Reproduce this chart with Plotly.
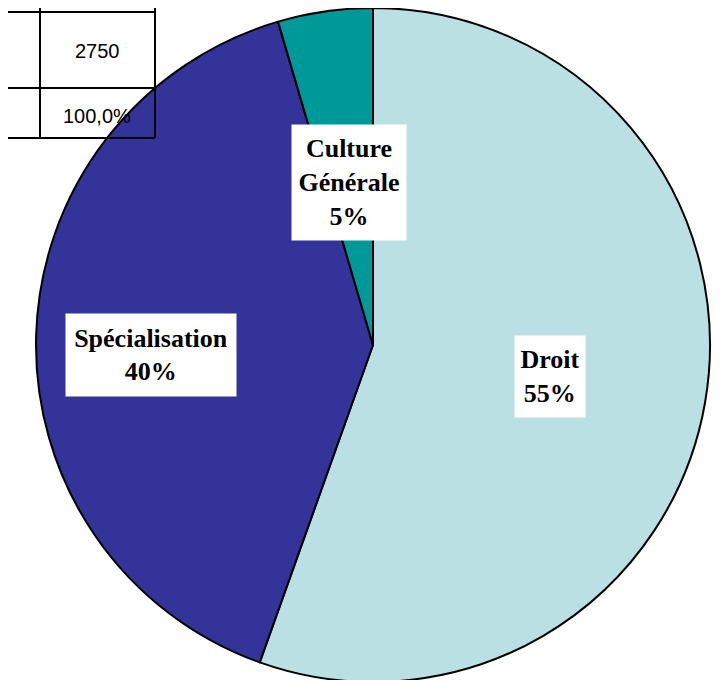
import plotly.graph_objects as go

# parts of the 2750 hours
labels = ["Droit", "Spécialisation", "Culture<br>Générale"]
values = [1525, 1100, 125]
colors = ["#BBE0E3", "#333399", "#009999"]
total_label = "2750"
pct_label = "100,0%"

W, H = 722, 680
OFF = 8  # page body margin, positions below are page pixels


def px(x):
    return (x - OFF) / W


def py(y):
    return 1 - (y - OFF) / H


cx, cy, r = 373, 345, 337
fig = go.Figure(go.Pie(labels=labels, values=values,
                       sort=False, direction="clockwise", rotation=0,
                       marker=dict(colors=colors, line=dict(color="black", width=2)),
                       textinfo="none", hoverinfo="label+percent",
                       domain=dict(x=[px(cx - r), px(cx + r)], y=[py(cy + r), py(cy - r)])))

# label boxes (white, bold serif), placed like the original
box_pos = [(550, 376, 68, 79), (151, 355, 168, 80), (349, 183, 112, 113)]
total = sum(values)
for lab, v, (bx, by, bw, bh) in zip(labels, values, box_pos):
    fig.add_annotation(x=px(bx), y=py(by), xref="paper", yref="paper",
                       xanchor="center", yanchor="middle",
                       text="<b>%s<br>%d%%</b>" % (lab, round(v * 100.0 / total)),
                       showarrow=False, bgcolor="white", width=bw, height=bh,
                       font=dict(family="Liberation Serif", size=26, color="black"))

# the bit of the data table left in the corner
tbl = dict(color="black", width=2)
for y in [12, 88, 138]:
    fig.add_shape(type="line", xref="paper", yref="paper",
                  x0=0, x1=px(155), y0=py(y), y1=py(y), line=tbl)
for x in [40, 155]:
    fig.add_shape(type="line", xref="paper", yref="paper",
                  x0=px(x), x1=px(x), y0=1, y1=py(138), line=tbl)
for txt, ty in [(total_label, 51), (pct_label, 116)]:
    fig.add_annotation(x=px(97), y=py(ty), xref="paper", yref="paper", text=txt,
                       xanchor="center", yanchor="middle", showarrow=False,
                       font=dict(family="Liberation Sans", size=20, color="black"))

fig.update_layout(width=W, height=H, margin=dict(l=0, r=0, t=0, b=0),
                  showlegend=False, paper_bgcolor="white", plot_bgcolor="white")

fig.write_html("out.html")
